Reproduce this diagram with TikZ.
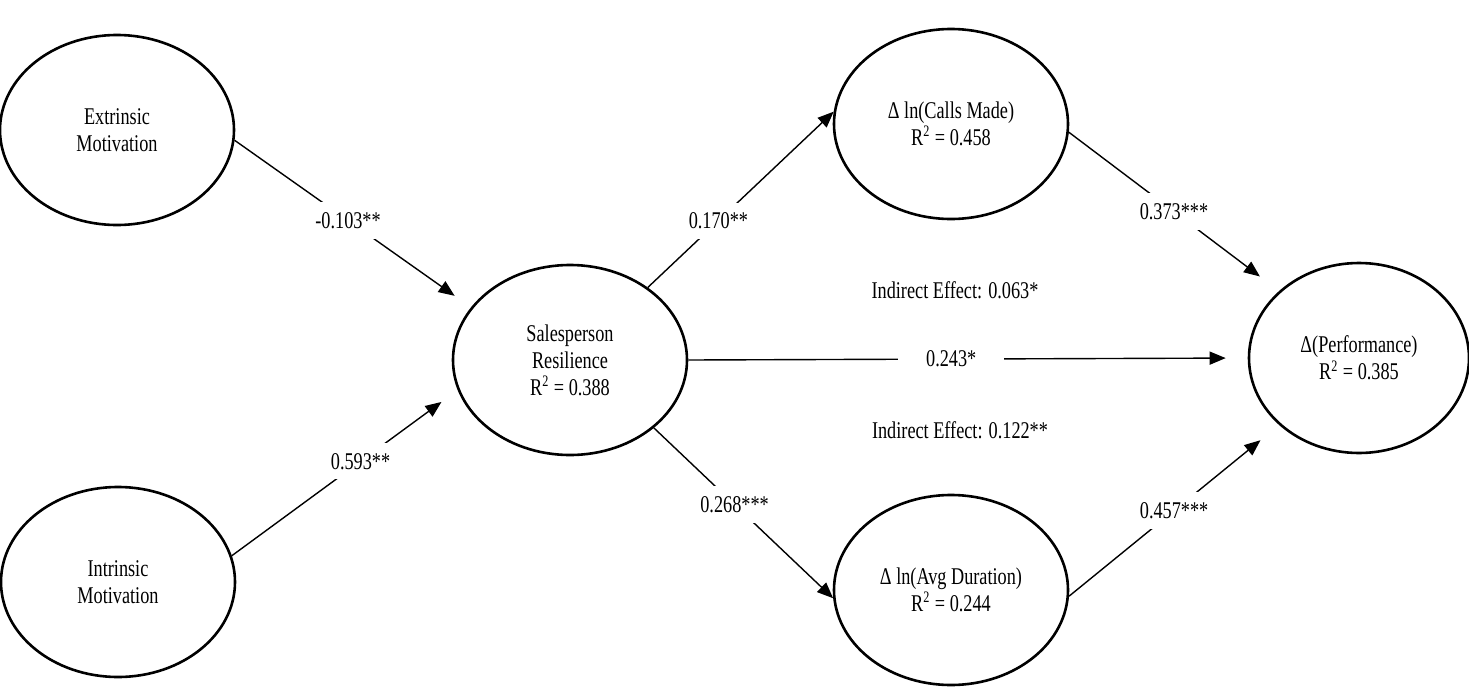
\documentclass[tikz,border=0pt]{standalone}
\usepackage{fontspec}
\setmainfont{Liberation Serif}[FakeStretch=0.76]
\usetikzlibrary{shapes.geometric, arrows.meta}

\begin{document}
\begin{tikzpicture}[x=0.5pt, y=-0.5pt, font=\fontsize{12}{13.5}\selectfont,
                        latent/.style={ellipse, draw=black, line width=1.3pt, align=center,
                                       minimum width=117pt, minimum height=95pt, inner sep=0pt},
                        coef/.style={fill=white, inner sep=5pt},
                        every edge/.style={draw, line width=0.7pt, -{Triangle[length=8pt, width=6.5pt]}}]

                        \useasboundingbox (0,0) rectangle (1469,697);

                        % Define nodes
                        \node[latent] (ext) at (117,130) {Extrinsic\\Motivation}; % Antecedent
                        \node[latent] (int) at (118,582) {Intrinsic\\Motivation}; % Antecedent
                        \node[latent] (res) at (570,360) {Salesperson\\Resilience\\R\textsuperscript{2} = 0.388}; % Mediator
                        \node[latent] (calls) at (951,124) {Δ ln(Calls Made)\\R\textsuperscript{2} = 0.458}; % Behaviour
                        \node[latent] (dur) at (951,590) {Δ ln(Avg Duration)\\R\textsuperscript{2} = 0.244}; % Behaviour
                        \node[latent, minimum width=110pt] (perf) at (1359,358) {Δ(Performance)\\R\textsuperscript{2} = 0.385}; % Outcome

                        % Indirect effects
                        \node (ind1) at (955,290) {Indirect Effect: 0.063*};
                        \node (ind2) at (960,430) {Indirect Effect: 0.122**};

                        % Define edges
                        \path [shorten >=10pt](ext.-5) edge node[coef, pos=0.48] {-0.103**} (res.152);
                        \path [shorten >=10pt](int.13) edge node[coef, pos=0.57] {0.593**} (res.195);
                        \path (res.43) edge node[coef, pos=0.38] {0.170**} (calls.174);
                        \path (res.-39) edge node[coef, pos=0.45] {0.268***} (dur.184);
                        \path [shorten >=12pt](calls.-4) edge node[coef] {0.373***} (perf.140);
                        \path [shorten >=12pt](dur.-3) edge node[coef] {0.457***} (perf.220);
                        \path [shorten >=11pt](res.east) edge node[coef, pos=0.47, inner xsep=14pt] {0.243*} (perf.west);
                    \end{tikzpicture}
\end{document}
